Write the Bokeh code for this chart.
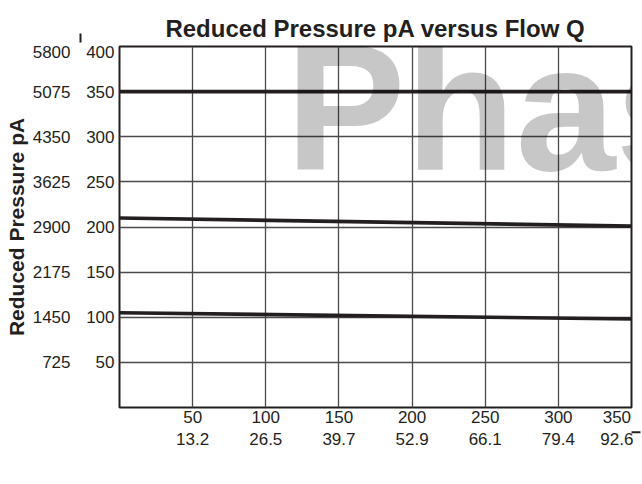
from bokeh.plotting import figure
from bokeh.models import Range1d, LinearAxis, FixedTicker, Label, Arrow, NormalHead
from bokeh.embed import file_html
from bokeh.resources import INLINE

# ---------------- data ----------------
flow_lpm = [0, 350]
pa_high = [350, 350]
pa_mid = [210, 201]
pa_low = [105, 98]

bar_ticks = [50, 100, 150, 200, 250, 300, 350, 400]
psi_labels = ["725", "1450", "2175", "2900", "3625", "4350", "5075", "5800"]
lpm_ticks = [50, 100, 150, 200, 250, 300, 350]
gpm_labels = ["13.2", "26.5", "39.7", "52.9", "66.1", "79.4", "92.6"]

# ---------------- layout ----------------
W, H = 642, 484
FL, FR, FT, FB = 119, 631, 46, 407   # frame edges in canvas px
X0, X1, Y0, Y1 = 0, 350, 0, 400

FONT = "Liberation Sans"
INK = "#231f20"
GRID = "#4a4a4a"


def dx(sx):
    return X0 + (sx - FL) / (FR - FL) * (X1 - X0)


def dy(sy):
    return Y0 + (FB - sy) / (FB - FT) * (Y1 - Y0)


p = figure(width=W, height=H, x_range=Range1d(X0, X1), y_range=Range1d(Y0, Y1),
           output_backend="svg", toolbar_location=None,
           min_border_left=FL, min_border_right=W - FR,
           min_border_top=FT, min_border_bottom=H - FB)
p.background_fill_color = "white"
p.border_fill_color = "white"
p.outline_line_color = INK
p.outline_line_width = 2

# title
p.title.text = "Reduced Pressure pA versus Flow Q"
p.title.text_font = FONT
p.title.text_font_size = "24px"
p.title.text_font_style = "bold"
p.title.text_color = INK
p.title.align = "center"
p.title.offset = 13

# grid
p.xgrid.ticker = FixedTicker(ticks=lpm_ticks[:-1])
p.ygrid.ticker = FixedTicker(ticks=bar_ticks[:-1])
for g in (p.xgrid, p.ygrid):
    g.grid_line_color = GRID
    g.grid_line_width = 1.3

# label positions (edge labels nudged inward to stay inside the chart)
bar_pos = list(bar_ticks[:-1]) + [bar_ticks[-1] - 6]
lpm_pos = list(lpm_ticks[:-1]) + [lpm_ticks[-1] - 10]


def style_axis(ax, standoff):
    ax.axis_line_color = None
    ax.major_tick_out = 0
    ax.major_tick_in = 0
    ax.minor_tick_out = 0
    ax.minor_tick_in = 0
    ax.major_label_standoff = standoff
    ax.major_label_text_font = FONT
    ax.major_label_text_font_size = "17px"
    ax.major_label_text_color = INK


# Bar axis (inner left)
bar_ax = p.yaxis[0]
bar_ax.ticker = FixedTicker(ticks=bar_pos)
bar_ax.major_label_overrides = {pos: str(v) for pos, v in zip(bar_pos, bar_ticks)}
style_axis(bar_ax, 5)

# PSI axis (outer left)
psi_ax = LinearAxis(ticker=FixedTicker(ticks=bar_pos),
                    major_label_overrides={pos: s for pos, s in zip(bar_pos, psi_labels)})
style_axis(psi_ax, 13)
psi_ax.axis_label = "Reduced Pressure pA"
psi_ax.axis_label_text_font = FONT
psi_ax.axis_label_text_font_size = "21px"
psi_ax.axis_label_text_font_style = "bold"
psi_ax.axis_label_text_color = INK
psi_ax.axis_label_standoff = 2
p.add_layout(psi_ax, "left")

# LPM axis (inner bottom)
lpm_ax = p.xaxis[0]
lpm_ax.ticker = FixedTicker(ticks=lpm_pos)
lpm_ax.major_label_overrides = {pos: str(v) for pos, v in zip(lpm_pos, lpm_ticks)}
style_axis(lpm_ax, 3)

# GPM axis (outer bottom)
gpm_ax = LinearAxis(ticker=FixedTicker(ticks=lpm_pos),
                    major_label_overrides={pos: s for pos, s in zip(lpm_pos, gpm_labels)})
style_axis(gpm_ax, 7)
p.add_layout(gpm_ax, "below")

# data lines
for ys in (pa_high, pa_mid, pa_low):
    p.line(flow_lpm, ys, line_width=3.6, line_color=INK)


def lab(sx, sy, text, align="center", size="17px", style="normal", baseline="middle"):
    p.add_layout(Label(x=dx(sx), y=dy(sy), text=text, text_font=FONT,
                       text_font_size=size, text_font_style=style, text_color=INK,
                       text_align=align, text_baseline=baseline))


lab(72.5, 30, "PSI", align="right")
lab(113.5, 30, "Bar", align="right")
lab(80, 404, "0")
lab(118, 431.7, "0")
lab(108, 421.7, "LPM", align="right")
lab(108, 445, "GPM", align="right")
lab(368, 480, "Flow (Q)", size="21px", style="bold", baseline="alphabetic")

# watermark: translucent black on top, so lines stay dark and white turns light grey
p.add_layout(Label(x=dx(285), y=dy(207), text="Phase", text_font=FONT,
                   text_font_size="180px", text_font_style="bold",
                   text_color="black", text_alpha=0.22, level="overlay"))

# axis arrows (painted last)
p.add_layout(Arrow(end=NormalHead(size=9, fill_color=INK, line_color=INK),
                   x_start=dx(80), y_start=dy(390), x_end=dx(80), y_end=dy(33),
                   line_color=INK, line_width=2, level="overlay"))
p.add_layout(Arrow(end=NormalHead(size=9, fill_color=INK, line_color=INK),
                   x_start=dx(126), y_start=dy(431.7), x_end=dx(640), y_end=dy(431.7),
                   line_color=INK, line_width=2, level="overlay"))

open("out.html", "w").write(file_html(p, INLINE))
